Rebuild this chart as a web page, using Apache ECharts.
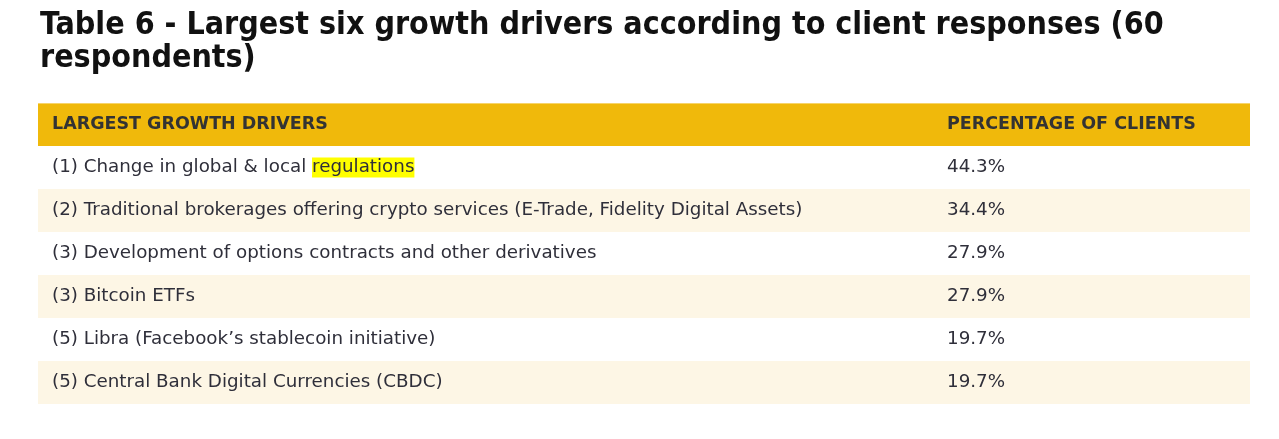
<!DOCTYPE html>
<html><head><meta charset="utf-8">
<script src="https://cdn.jsdelivr.net/npm/echarts@6/dist/echarts.min.js"></script>
<style>html,body{margin:0;padding:0;background:#fff}#c{width:1279px;height:439px}</style>
</head><body><div id="c"></div>
<script>
var titleLines = ['Table 6 - Largest six growth drivers according to client responses (60', 'respondents)'];
var headers = ['LARGEST GROWTH DRIVERS', 'PERCENTAGE OF CLIENTS'];
var drivers = [
  '(1) Change in global & local {hl|regulations}',
  '(2) Traditional brokerages offering crypto services (E-Trade, Fidelity Digital Assets)',
  '(3) Development of options contracts and other derivatives',
  '(3) Bitcoin ETFs',
  '(5) Libra (Facebook\u2019s stablecoin initiative)',
  '(5) Central Bank Digital Currencies (CBDC)'
];
var percentages = [44.3, 34.4, 27.9, 27.9, 19.7, 19.7];

var chart = echarts.init(document.getElementById('c'), null, {renderer: 'canvas'});
var bodyFont = '"DejaVu Sans", sans-serif';
var bodySize = '18.3px ';
var rowColors = ['#ffffff', '#fdf6e5'];
var COL2 = 909; // x offset of second column within grid (value axis units = px)

chart.setOption({
  animation: false,
  backgroundColor: '#fff',
  title: {
    text: titleLines.join('\n'),
    left: 40, top: 9, padding: 0,
    textStyle: {fontFamily: '"DejaVu Sans Condensed", sans-serif', fontWeight: 'bold', fontSize: 31.9, lineHeight: 33, color: '#111'}
  },
  grid: {left: 38, right: 29, top: 146, bottom: 35},
  xAxis: {type: 'value', min: 0, max: 1212, show: false},
  yAxis: {type: 'category', inverse: true, data: drivers, show: false},
  graphic: [
    {type: 'rect', shape: {x: 38, y: 103, width: 1212, height: 43}, style: {fill: '#f0b90b'}},
    {type: 'rect', shape: {x: 38, y: 103, width: 1212, height: 1}, style: {fill: '#f7d46a'}},
    {type: 'text', x: 52, y: 124.5, style: {text: headers[0], fill: '#333', font: 'bold 17.5px ' + bodyFont, verticalAlign: 'middle'}},
    {type: 'text', x: 38 + COL2, y: 124.5, style: {text: headers[1], fill: '#333', font: 'bold 17.5px ' + bodyFont, verticalAlign: 'middle'}}
  ],
  series: [{
    type: 'custom',
    data: percentages.map(function (p, i) { return [i, p]; }),
    encode: {y: 0},
    renderItem: function (params, api) {
      var i = api.value(0);
      var c = api.coord([0, i]);
      var size = api.size([0, 1]);
      var h = size[1];
      var cs = params.coordSys;
      return {
        type: 'group',
        children: [
          {type: 'rect', shape: {x: cs.x, y: c[1] - h / 2, width: cs.width, height: h}, style: {fill: rowColors[i % 2]}},
          {type: 'text', x: cs.x + 14, y: c[1], style: {
            text: drivers[i], fill: '#2f2f3a', font: bodySize + bodyFont, verticalAlign: 'middle',
            rich: {hl: {backgroundColor: '#ffff00', fill: '#2f2f3a', font: bodySize + bodyFont, padding: [1, 0, 1, 0]}}
          }},
          {type: 'text', x: api.coord([COL2, i])[0], y: c[1], style: {
            text: api.value(1).toFixed(1) + '%', fill: '#2f2f3a', font: bodySize + bodyFont, verticalAlign: 'middle'
          }}
        ]
      };
    }
  }]
});
</script></body></html>
